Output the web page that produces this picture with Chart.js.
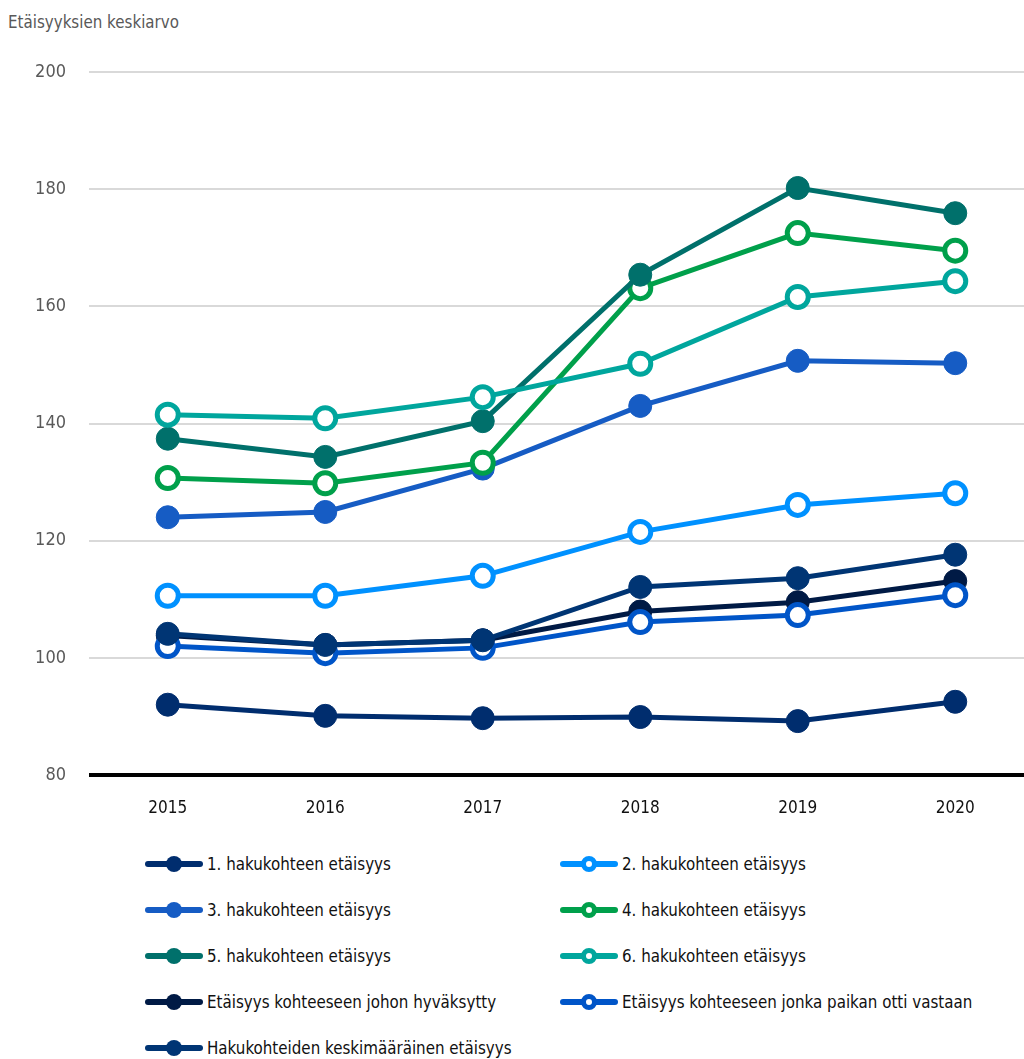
<!DOCTYPE html>
<html lang="fi">
<head>
<meta charset="utf-8">
<script src="https://cdn.jsdelivr.net/npm/chart.js@4/dist/chart.umd.min.js"></script>
<style>
  html, body { margin: 0; padding: 0; background: #fff; overflow: hidden; }
  body { width: 1024px; height: 1059px; position: relative;
         font-family: 'DejaVu Sans Condensed', 'Liberation Sans Narrow', sans-serif; }
  #yTitle { position: absolute; left: 8px; top: 12px; font-size: 16.8px; color: #595959; }
  #chartBox { position: absolute; left: 0; top: 0; width: 1034px; height: 825px; }
  #legend { position: absolute; left: 145px; top: 841px; display: grid;
            grid-template-columns: 415px 415px; grid-auto-rows: 46px; }
  .item { display: flex; align-items: center; height: 46px; font-size: 16.8px; color: #111;
          white-space: nowrap; }
  .sym { position: relative; width: 58px; height: 16px; margin-right: 4px; flex: none; }
  .sym .ln { position: absolute; left: 0; right: 0; top: 5px; height: 6px; border-radius: 3px; }
  .sym .dot { position: absolute; left: 21px; top: 0; width: 16px; height: 16px;
              border-radius: 50%; box-sizing: border-box; }
</style>
</head>
<body>
<div id="yTitle">Etäisyyksien keskiarvo</div>
<div id="chartBox"><canvas id="distChart" width="1034" height="825"></canvas></div>
<div id="legend"></div>
<script>
// Vuodet ja tick-arvot
const years = ['2015', '2016', '2017', '2018', '2019', '2020'];
const yTicks = [80, 100, 120, 140, 160, 180, 200];

const seriesNames = [
    '1. hakukohteen etäisyys',
    '2. hakukohteen etäisyys',
    '3. hakukohteen etäisyys',
    '4. hakukohteen etäisyys',
    '5. hakukohteen etäisyys',
    '6. hakukohteen etäisyys',
    'Etäisyys kohteeseen johon hyväksytty',
    'Etäisyys kohteeseen jonka paikan otti vastaan',
    'Hakukohteiden keskimääräinen etäisyys'
];

// Etäisyyksien keskiarvot vuosittain
const hk1 = [92.0, 90.1, 89.7, 89.9, 89.2, 92.5];
const hk2 = [110.6, 110.6, 114.0, 121.5, 126.1, 128.1];
const hk3 = [124.0, 124.9, 132.3, 143.0, 150.7, 150.3];
const hk4 = [130.7, 129.8, 133.3, 163.1, 172.5, 169.5];
const hk5 = [137.4, 134.3, 140.4, 165.4, 180.2, 175.9];
const hk6 = [141.5, 140.9, 144.5, 150.2, 161.6, 164.3];
const hyvaksytty = [103.8, 102.2, 103.0, 107.9, 109.5, 113.1];
const vastaanotettu = [102.0, 100.8, 101.7, 106.1, 107.3, 110.7];
const keskimaarainen = [104.1, 102.2, 103.0, 112.1, 113.6, 117.6];

const seriesValues = [hk1, hk2, hk3, hk4, hk5, hk6, hyvaksytty, vastaanotettu, keskimaarainen];

const seriesColors = ['#002d6e', '#0091ff', '#165cc4', '#00a04b', '#00706b',
                      '#00a69d', '#001a45', '#0055c8', '#003574'];
const hollow = [false, true, false, true, false, true, false, true, false];

const fontFamily = "'DejaVu Sans Condensed', 'Liberation Sans Narrow', sans-serif";

const datasets = seriesNames.map(function (name, i) {
    return {
        label: name,
        data: seriesValues[i],
        borderColor: seriesColors[i],
        backgroundColor: seriesColors[i],
        borderWidth: 5,
        pointRadius: hollow[i] ? 10.5 : 11.5,
        pointBorderWidth: hollow[i] ? 5 : 1,
        pointBackgroundColor: hollow[i] ? '#ffffff' : seriesColors[i],
        pointBorderColor: seriesColors[i],
        pointHoverRadius: 12,
        tension: 0,
        // later series are drawn on top
        order: seriesNames.length - i
    };
});

const distChart = new Chart(document.getElementById('distChart'), {
    type: 'line',
    data: { labels: years, datasets: datasets },
    options: {
        responsive: false,
        animation: false,
        layout: { autoPadding: false, padding: { top: 72, right: 0, bottom: 0, left: 0 } },
        plugins: { legend: { display: false }, tooltip: { enabled: false } },
        scales: {
            x: {
                offset: true,
                grid: { display: false, drawTicks: false },
                border: { display: false },
                ticks: { color: '#111', padding: 23, font: { family: fontFamily, size: 17 } },
                afterFit: function (scale) { scale.height = 50; }
            },
            y: {
                min: yTicks[0],
                max: yTicks[yTicks.length - 1],
                afterBuildTicks: function (scale) {
                    scale.ticks = yTicks.map(function (v) { return { value: v }; });
                },
                grid: {
                    drawTicks: false,
                    color: function (c) { return c.tick && c.tick.value === 80 ? '#000000' : '#d9d9d9'; },
                    lineWidth: function (c) { return c.tick && c.tick.value === 80 ? 4 : 2; }
                },
                border: { display: false },
                ticks: { color: '#595959', padding: 23, font: { family: fontFamily, size: 18 } },
                afterFit: function (scale) { scale.width = 89; }
            }
        }
    }
});

// HTML legend in two columns
const legendEl = document.getElementById('legend');
seriesNames.forEach(function (name, i) {
    const item = document.createElement('div');
    item.className = 'item';
    const sym = document.createElement('div');
    sym.className = 'sym';
    const ln = document.createElement('div');
    ln.className = 'ln';
    ln.style.background = seriesColors[i];
    const dot = document.createElement('div');
    dot.className = 'dot';
    if (hollow[i]) {
        dot.style.background = '#fff';
        dot.style.border = '5px solid ' + seriesColors[i];
    } else {
        dot.style.background = seriesColors[i];
    }
    sym.appendChild(ln);
    sym.appendChild(dot);
    const txt = document.createElement('span');
    txt.textContent = name;
    item.appendChild(sym);
    item.appendChild(txt);
    legendEl.appendChild(item);
});
</script>
</body>
</html>
